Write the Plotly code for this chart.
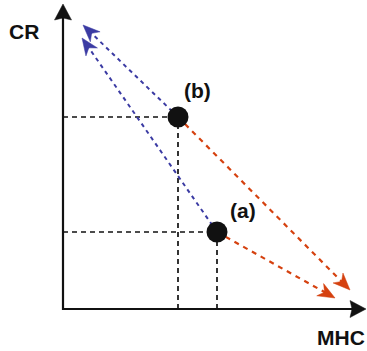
import numpy as np
import plotly.graph_objects as go

# ---- data (MHC on x, CR on y; origin of the drawn axes at 0,0) ----
labels = ["(b)", "(a)"]
mhc = [115, 154]
cr = [192, 77]
# arrow targets: shift towards high CR (blue) and towards high MHC (red)
blue_tip_mhc = [20, 19]
blue_tip_cr = [284, 271]
red_tip_mhc = [287, 272]
red_tip_cr = [19, 11]
axis_end_mhc = 303
axis_end_cr = 305

BLUE = "#3b3ba3"
RED = "#d5410f"
BLACK = "#111111"

fig = go.Figure()

def dashed(x0, y0, x1, y1, color, width, dash):
    fig.add_trace(go.Scatter(x=[x0, x1], y=[y0, y1], mode="lines",
                             line=dict(color=color, width=width, dash=dash),
                             hoverinfo="skip", showlegend=False))

def head(tx, ty, fx, fy, color, L=17, hw=7, notch=5):
    d = np.array([tx - fx, ty - fy], dtype=float)
    d /= np.linalg.norm(d)
    n = np.array([-d[1], d[0]])
    tip = np.array([tx, ty], dtype=float)
    base = tip - d * L
    p1 = base + n * hw
    p2 = tip - d * (L - notch)
    p3 = base - n * hw
    xs = [tip[0], p1[0], p2[0], p3[0], tip[0]]
    ys = [tip[1], p1[1], p2[1], p3[1], tip[1]]
    fig.add_trace(go.Scatter(x=xs, y=ys, mode="lines", fill="toself",
                             fillcolor=color, line=dict(color=color, width=0.5),
                             hoverinfo="skip", showlegend=False))

# guide lines to axes
for x, y in zip(mhc, cr):
    dashed(0, y, x, y, BLACK, 1.7, "5px,4px")
    dashed(x, 0, x, y, BLACK, 1.7, "5px,4px")

# axes
fig.add_trace(go.Scatter(x=[0, 0, axis_end_mhc - 10], y=[axis_end_cr - 10, 0, 0], mode="lines",
                         line=dict(color=BLACK, width=2.2), hoverinfo="skip", showlegend=False))
head(0, axis_end_cr, 0, 0, BLACK, L=16, hw=8.5, notch=2)
head(axis_end_mhc, 0, 0, 0, BLACK, L=16, hw=8.5, notch=2)

# shift arrows
for x, y, bx, by, rx, ry in zip(mhc, cr, blue_tip_mhc, blue_tip_cr, red_tip_mhc, red_tip_cr):
    db = np.array([bx - x, by - y], float); db /= np.linalg.norm(db)
    dashed(x, y, bx - db[0] * 10, by - db[1] * 10, BLUE, 2, "4px,4px")
    head(bx, by, x, y, BLUE)
    dr = np.array([rx - x, ry - y], float); dr /= np.linalg.norm(dr)
    dashed(x, y, rx - dr[0] * 10, ry - dr[1] * 10, RED, 2.2, "5px,5px")
    head(rx, ry, x, y, RED)

# points
fig.add_trace(go.Scatter(x=mhc, y=cr, mode="markers",
                         marker=dict(size=21, color=BLACK), hoverinfo="skip", showlegend=False))

font = dict(family="Liberation Sans, Arial, sans-serif", size=21, color=BLACK)
label_shift = [(19, 27), (26, 22)]
for lab, x, y, (sx, sy) in zip(labels, mhc, cr, label_shift):
    fig.add_annotation(x=x, y=y, text="<b>%s</b>" % lab, showarrow=False, font=font,
                       xanchor="center", yanchor="middle", xshift=sx, yshift=sy)
fig.add_annotation(x=0, y=axis_end_cr, text="<b>CR</b>", showarrow=False, font=font,
                   xanchor="center", yanchor="middle", xshift=-39, yshift=-27)
fig.add_annotation(x=axis_end_mhc, y=0, text="<b>MHC</b>", showarrow=False, font=font,
                   xanchor="center", yanchor="middle", xshift=-25, yshift=-28)

fig.update_layout(
    width=367, height=351, margin=dict(l=0, r=0, t=0, b=0),
    paper_bgcolor="white", plot_bgcolor="white",
    xaxis=dict(range=[-63, 304], visible=False, fixedrange=True),
    yaxis=dict(range=[-42, 309], visible=False, fixedrange=True),
    showlegend=False,
)
fig.write_html("out.html")
